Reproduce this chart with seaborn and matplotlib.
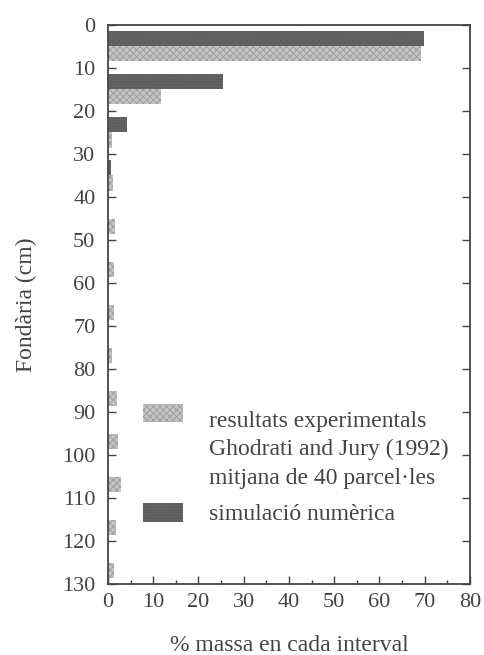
import matplotlib
matplotlib.use("Agg")
import matplotlib.pyplot as plt
import matplotlib.patches as mpatches
from matplotlib.legend_handler import HandlerPatch
from matplotlib.ticker import MultipleLocator
import seaborn as sns
import pandas as pd

# Data: depth interval centers (cm) and % mass per interval
depth_mid = [5, 15, 25, 35, 45, 55, 65, 75, 85, 95, 105, 115, 125]
experimental = [69.2, 11.7, 1.0, 1.1, 1.5, 1.3, 1.3, 0.9, 2.1, 2.2, 2.9, 1.7, 1.4]
simulated = [69.8, 25.4, 4.2, 0.7, 0.0, 0.0, 0.0, 0.0, 0.0, 0.0, 0.0, 0.0, 0.0]

lab_exp = "resultats experimentals\nGhodrati and Jury (1992)\nmitjana de 40 parcel·les"
lab_sim = "simulació numèrica"

df = pd.DataFrame({
    "depth": depth_mid * 2,
    "value": simulated + experimental,
    "serie": [lab_sim] * len(depth_mid) + [lab_exp] * len(depth_mid),
})

sns.set_style("ticks")
plt.rcParams["font.family"] = ["Liberation Serif", "DejaVu Serif"]
plt.rcParams["hatch.linewidth"] = 0.6
TXT = "#444444"
FS = 16
LFS = 17

fig = plt.figure(figsize=(4.84, 6.55), dpi=100)
ax = fig.add_axes([0.223, 0.108, 0.748, 0.854])

sns.barplot(data=df, x="value", y="depth", hue="serie", orient="h",
            native_scale=True, hue_order=[lab_sim, lab_exp],
            palette={lab_sim: "#5e5e5e", lab_exp: "#c4c4c4"},
            width=0.7, dodge=True, linewidth=0, ax=ax, legend=False,
            saturation=1)

n = len(depth_mid)
for i, p in enumerate(ax.patches):
    if i >= n:
        p.set_hatch("xxxxx")
        p.set_edgecolor("#9a9a9a")
    else:
        p.set_hatch("......")
        p.set_edgecolor("#6e6e6e")
    p.set_linewidth(0)

ax.set_xlim(0, 80)
ax.set_ylim(130, 0)
ax.xaxis.set_major_locator(MultipleLocator(10))
ax.xaxis.set_minor_locator(MultipleLocator(5))
ax.yaxis.set_major_locator(MultipleLocator(10))
ax.tick_params(axis="both", which="major", direction="in", length=6, width=1,
               labelsize=FS, colors=TXT, right=True, top=False)
ax.tick_params(axis="x", which="major", pad=6)
ax.tick_params(axis="y", which="major", pad=9)
ax.tick_params(axis="x", which="minor", direction="in", length=3, width=1,
               colors=TXT, top=False)
for s in ax.spines.values():
    s.set_visible(True)
    s.set_color(TXT)
    s.set_linewidth(1.3)

ax.set_xlabel("% massa en cada interval", fontsize=LFS, color=TXT, labelpad=17)
ax.set_ylabel("Fondària (cm)", fontsize=LFS, color=TXT, labelpad=18)


def top_patch(legend, orig_handle, xdescent, ydescent, width, height, fontsize):
    shift = 1.55 * fontsize
    return mpatches.Rectangle((-xdescent, -ydescent + shift), width, height)


h_exp = mpatches.Patch(facecolor="#c4c4c4", edgecolor="#9a9a9a", hatch="xxxxx", linewidth=0)
h_sim = mpatches.Patch(facecolor="#5e5e5e", edgecolor="#6e6e6e", hatch="......", linewidth=0)
leg = ax.legend([h_exp, h_sim], [lab_exp, lab_sim], loc="upper left",
                bbox_to_anchor=(0.097, 0.31), frameon=False, fontsize=LFS,
                borderpad=0, borderaxespad=0,
                handlelength=1.7, handleheight=0.85, handletextpad=1.1,
                labelspacing=0.6, labelcolor=TXT,
                handler_map={h_exp: HandlerPatch(patch_func=top_patch)})
for t in leg.get_texts():
    t.set_linespacing(1.45)

fig.savefig("out.png", dpi=100, facecolor="white")
